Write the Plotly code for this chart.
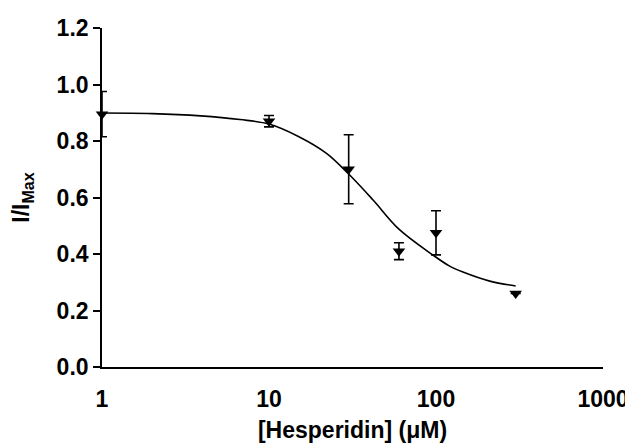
import plotly.graph_objects as go

# Measured data (mean ± error)
conc_uM = [1, 10, 30, 60, 100, 300]
i_over_imax = [0.895, 0.87, 0.70, 0.41, 0.475, 0.26]
err = [0.08, 0.02, 0.122, 0.03, 0.078, 0.0]

# Fitted curve
fit_x = [1, 2, 3.9, 6.7, 10, 15, 22, 30, 42, 60, 95, 120, 145, 210, 300]
fit_y = [0.899, 0.897, 0.889, 0.876, 0.860, 0.816, 0.757, 0.683, 0.591, 0.488, 0.398, 0.358, 0.336, 0.304, 0.287]

x_tickvals = [1, 10, 100, 1000]
x_ticktext = ["1", "10", "100", "1000"]
y_tickvals = [0.0, 0.2, 0.4, 0.6, 0.8, 1.0, 1.2]
y_ticktext = ["0.0", "0.2", "0.4", "0.6", "0.8", "1.0", "1.2"]

font_family = "Liberation Sans, Arial, sans-serif"

fig = go.Figure()
fig.add_trace(go.Scatter(
    x=fit_x, y=fit_y, mode="lines", line=dict(color="black", width=1.6, shape="spline"),
    hoverinfo="skip", showlegend=False, cliponaxis=False))
fig.add_trace(go.Scatter(
    x=conc_uM, y=i_over_imax, mode="markers",
    marker=dict(symbol="triangle-down", size=11, color="black"),
    error_y=dict(type="data", array=err, visible=True, color="black", thickness=1.6, width=5),
    showlegend=False, cliponaxis=False))

fig.update_layout(
    width=625, height=440,
    margin=dict(l=94, r=30, t=20, b=81),
    paper_bgcolor="white", plot_bgcolor="white",
    font=dict(family=font_family, size=23, color="black", weight="bold"),
    xaxis=dict(
        type="log", range=[0, 3], tickvals=x_tickvals, ticktext=x_ticktext,
        showline=True, linecolor="black", linewidth=1.6, ticks="", showgrid=False,
        zeroline=False, ticklabelstandoff=11, automargin=False,
        tickfont=dict(family=font_family, size=23, weight="bold"),
        title=dict(text="[Hesperidin] (μM)", standoff=10,
                   font=dict(family=font_family, size=23, weight="bold")),
    ),
    yaxis=dict(
        range=[0, 1.2], tickvals=y_tickvals, ticktext=y_ticktext,
        showline=True, linecolor="black", linewidth=1.6, ticks="outside", ticklen=7,
        tickwidth=1.6, tickcolor="black", showgrid=False, zeroline=False,
        automargin=False,
        tickfont=dict(family=font_family, size=23, weight="bold"),
        title=dict(text="I/I<sub>Max</sub>", standoff=26,
                   font=dict(family=font_family, size=23, weight="bold")),
    ),
)

fig.write_html("out.html")
